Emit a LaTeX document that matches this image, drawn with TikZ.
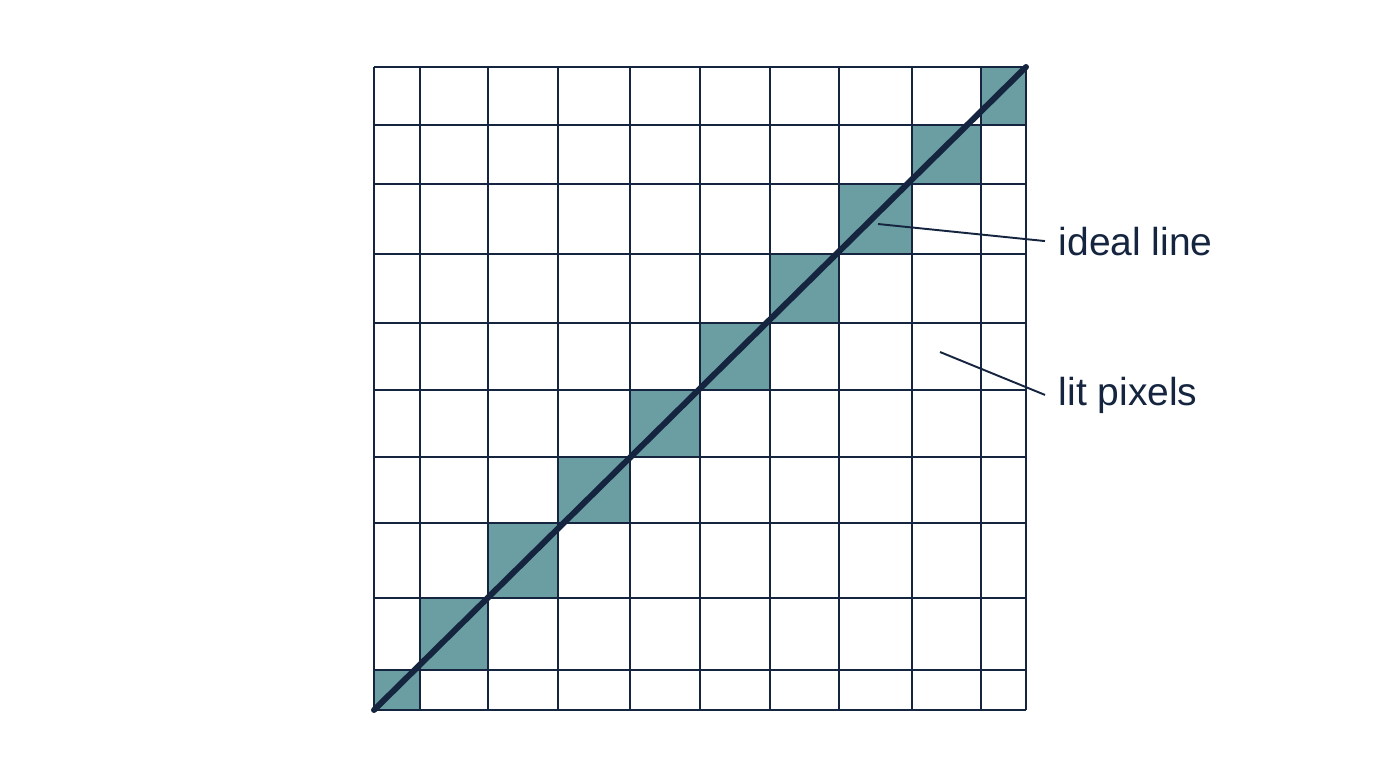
\documentclass[tikz,border=0pt]{standalone}
\usepackage{fontspec}
\setmainfont{Liberation Sans}
\definecolor{navy}{HTML}{15253F}
\definecolor{teal}{HTML}{6A9EA2}
\begin{document}
\begin{tikzpicture}[
  gridline/.style={draw=navy, line width=0.65pt},
  litcell/.style={fill=teal},
  ideal/.style={draw=navy, line width=1.7pt, line cap=round},
  leader/.style={draw=navy, line width=0.55pt},
  callout/.style={text=navy, font=\fontsize{11.1}{13}\selectfont, anchor=base west, inner xsep=0.13cm, inner ysep=0pt}
  ]
  \useasboundingbox (0,0) rectangle (14,7.81);

  % lit pixels
  \foreach \xa/\xb/\ya/\yb in {3.74/4.20/0.71/1.11, 4.20/4.88/1.11/1.83, 4.88/5.58/1.83/2.58,
    5.58/6.30/2.58/3.24, 6.30/7.00/3.24/3.91, 7.00/7.70/3.91/4.58, 7.70/8.39/4.58/5.27,
    8.39/9.12/5.27/5.97, 9.12/9.81/5.97/6.56, 9.81/10.26/6.56/7.14}
    \fill[litcell] (\xa,\ya) rectangle (\xb,\yb);

  % grid
  \foreach \x in {3.74, 4.20, 4.88, 5.58, 6.30, 7.00, 7.70, 8.39, 9.12, 9.81, 10.26}
    \draw[gridline] (\x,0.71) -- (\x,7.14);
  \foreach \y in {0.71, 1.11, 1.83, 2.58, 3.24, 3.91, 4.58, 5.27, 5.97, 6.56, 7.14}
    \draw[gridline] (3.74,\y) -- (10.26,\y);

  % ideal line
  \coordinate (start) at (3.74,0.71);
  \coordinate (end) at (10.26,7.14);
  \draw[ideal] (start) -- (end);

  % labels
  \node[callout] (idealtext) at (10.45,5.26) {ideal line};
  \node[callout] (littext) at (10.45,3.76) {lit pixels};
  \coordinate (idealpt) at (8.78,5.57);
  \coordinate (litpt) at (9.40,4.29);
  \draw[leader] (idealpt) -- (idealtext.west);
  \draw[leader] (litpt) -- (littext.west);
\end{tikzpicture}
\end{document}
